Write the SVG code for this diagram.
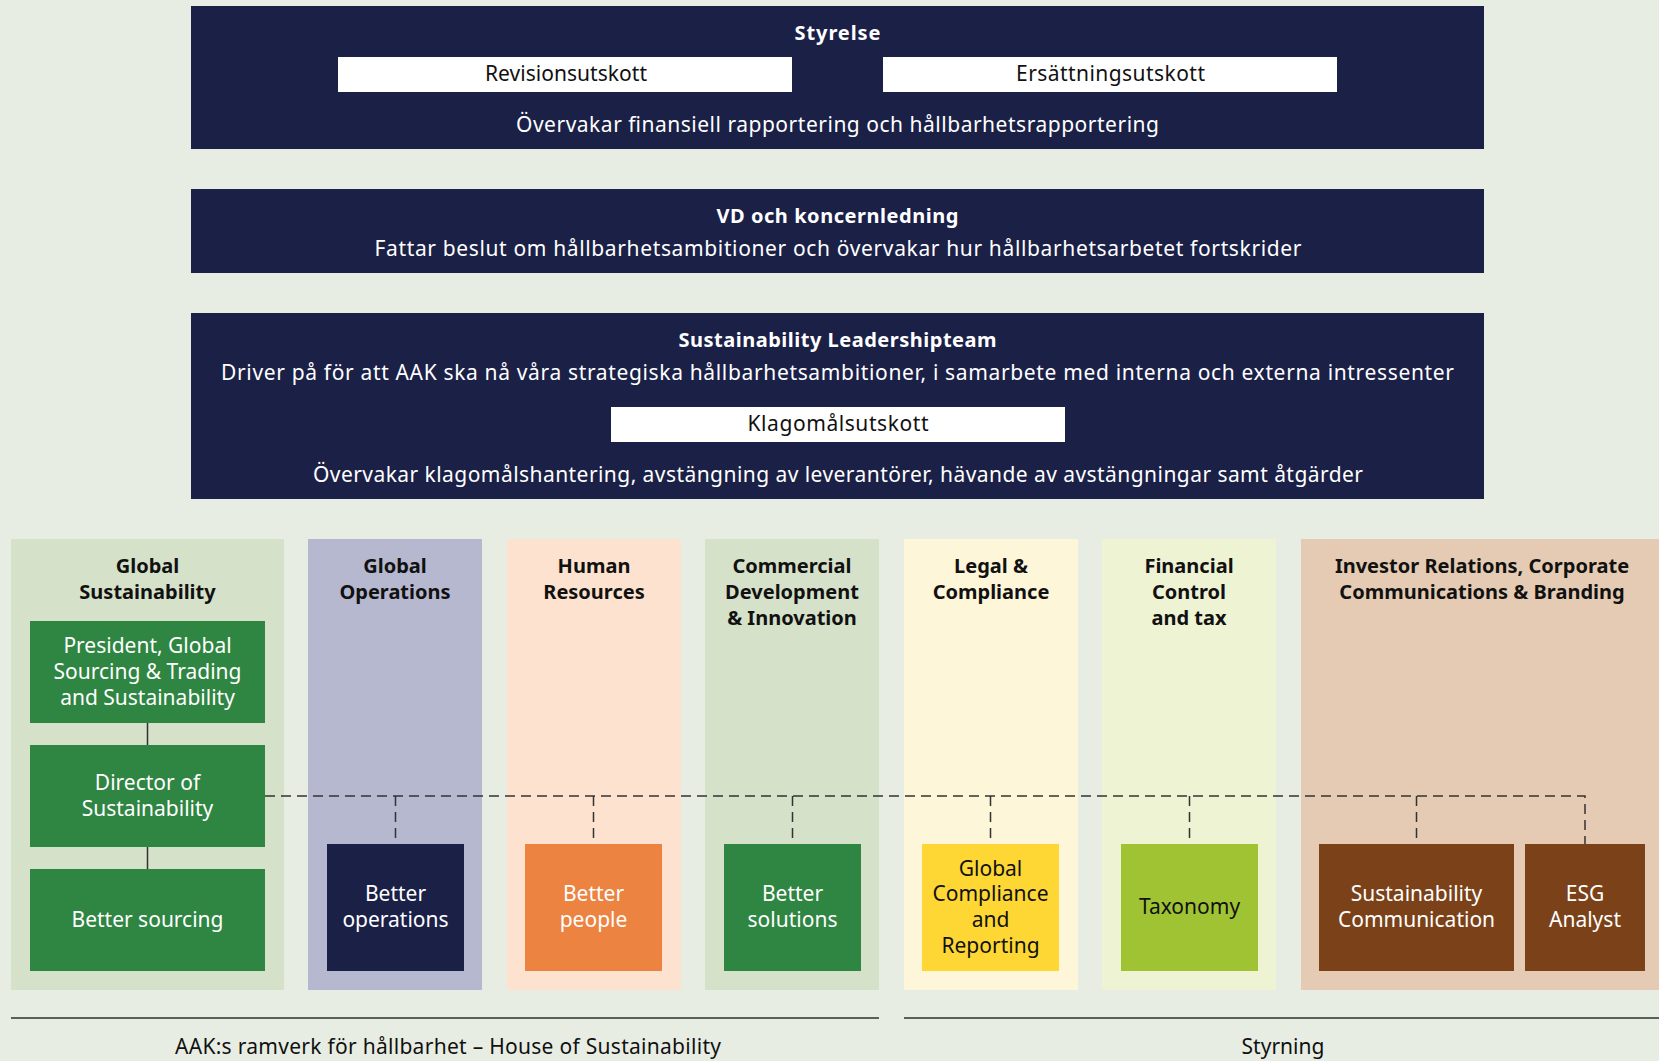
<svg xmlns="http://www.w3.org/2000/svg" width="1659" height="1061" viewBox="0 0 1659 1061">
<style>
text{font-family:"Noto Sans","Open Sans","Liberation Sans",sans-serif;font-size:21px;text-anchor:middle}
.b{font-weight:bold;font-size:20px}
.w{fill:#ffffff}
.k{fill:#111111}
.navy{fill:#1b2047}
.white{fill:#ffffff}
.green{fill:#2f8542}
.conn{fill:none;stroke:#333333;stroke-width:1.5}
.dash{stroke-dasharray:10 6}
</style>
<rect x="0" y="0" width="1659" height="1061" fill="#e8ede3"/>

<g id="styrelse">
<rect class="navy" x="191" y="6" width="1293" height="143"/>
<text class="b w" x="837.5" y="40" textLength="86" lengthAdjust="spacing">Styrelse</text>
<rect class="white" x="338" y="57" width="454" height="35"/>
<text class="k" x="566" y="81" textLength="162" lengthAdjust="spacing">Revisionsutskott</text>
<rect class="white" x="883" y="57" width="454" height="35"/>
<text class="k" x="1110.5" y="81" textLength="189" lengthAdjust="spacing">Ersättningsutskott</text>
<text class="w" x="837.5" y="132" textLength="643" lengthAdjust="spacing">Övervakar finansiell rapportering och hållbarhetsrapportering</text>
</g>

<g id="vd">
<rect class="navy" x="191" y="189" width="1293" height="84"/>
<text class="b w" x="837.5" y="223" textLength="242" lengthAdjust="spacing">VD och koncernledning</text>
<text class="w" x="838" y="256" textLength="927" lengthAdjust="spacing">Fattar beslut om hållbarhetsambitioner och övervakar hur hållbarhetsarbetet fortskrider</text>
</g>

<g id="slt">
<rect class="navy" x="191" y="313" width="1293" height="186"/>
<text class="b w" x="837.5" y="347" textLength="318" lengthAdjust="spacing">Sustainability Leadershipteam</text>
<text class="w" x="837.5" y="380" textLength="1233" lengthAdjust="spacing">Driver på för att AAK ska nå våra strategiska hållbarhetsambitioner, i samarbete med interna och externa intressenter</text>
<rect class="white" x="611" y="407" width="454" height="35"/>
<text class="k" x="838" y="431" textLength="181" lengthAdjust="spacing">Klagomålsutskott</text>
<text class="w" x="838" y="482" textLength="1050" lengthAdjust="spacing">Övervakar klagomålshantering, avstängning av leverantörer, hävande av avstängningar samt åtgärder</text>
</g>

<g id="col-global-sustainability">
<rect x="11" y="539" width="273" height="451" fill="#d5e2c9"/>
<text class="b k" x="147.5" y="573">Global</text>
<text class="b k" x="147.5" y="599">Sustainability</text>
</g>
<g id="col-global-operations">
<rect x="308" y="539" width="174" height="451" fill="#b6b8cf"/>
<text class="b k" x="395" y="573">Global</text>
<text class="b k" x="395" y="599">Operations</text>
</g>
<g id="col-human-resources">
<rect x="507" y="539" width="174" height="451" fill="#fde3cf"/>
<text class="b k" x="594" y="573">Human</text>
<text class="b k" x="594" y="599">Resources</text>
</g>
<g id="col-commercial">
<rect x="705" y="539" width="174" height="451" fill="#d5e2c9"/>
<text class="b k" x="792" y="573">Commercial</text>
<text class="b k" x="792" y="599">Development</text>
<text class="b k" x="792" y="625">&amp; Innovation</text>
</g>
<g id="col-legal">
<rect x="904" y="539" width="174" height="451" fill="#fdf6d9"/>
<text class="b k" x="991" y="573">Legal &amp;</text>
<text class="b k" x="991" y="599">Compliance</text>
</g>
<g id="col-financial">
<rect x="1102" y="539" width="174" height="451" fill="#eef3d4"/>
<text class="b k" x="1189" y="573">Financial</text>
<text class="b k" x="1189" y="599">Control</text>
<text class="b k" x="1189" y="625">and tax</text>
</g>
<g id="col-investor">
<rect x="1301" y="539" width="358" height="451" fill="#e5cbb3"/>
<text class="b k" x="1482" y="573">Investor Relations, Corporate</text>
<text class="b k" x="1482" y="599">Communications &amp; Branding</text>
</g>

<g id="connectors">
<path class="conn" d="M147.5 723 V745 M147.5 847 V869"/>
<path class="conn dash" d="M265 796 H1585 V844"/>
<path class="conn dash" d="M395.5 796 V844 M593.5 796 V844 M792.5 796 V844 M990.5 796 V844 M1189.5 796 V844 M1416.5 796 V844"/>
</g>

<g id="president">
<rect class="green" x="30" y="621" width="235" height="102"/>
<text class="w" x="147.5" y="653">President, Global</text>
<text class="w" x="147.5" y="679">Sourcing &amp; Trading</text>
<text class="w" x="147.5" y="705">and Sustainability</text>
</g>
<g id="director">
<rect class="green" x="30" y="745" width="235" height="102"/>
<text class="w" x="147.5" y="790">Director of</text>
<text class="w" x="147.5" y="816">Sustainability</text>
</g>
<g id="better-sourcing">
<rect class="green" x="30" y="869" width="235" height="102"/>
<text class="w" x="147.5" y="927">Better sourcing</text>
</g>
<g id="better-operations">
<rect class="navy" x="327" y="844" width="137" height="127"/>
<text class="w" x="395.5" y="901">Better</text>
<text class="w" x="395.5" y="927">operations</text>
</g>
<g id="better-people">
<rect x="525" y="844" width="137" height="127" fill="#ec8341"/>
<text class="w" x="593.5" y="901">Better</text>
<text class="w" x="593.5" y="927">people</text>
</g>
<g id="better-solutions">
<rect class="green" x="724" y="844" width="137" height="127"/>
<text class="w" x="792.5" y="901">Better</text>
<text class="w" x="792.5" y="927">solutions</text>
</g>
<g id="global-compliance">
<rect x="922" y="844" width="137" height="127" fill="#fed734"/>
<text class="k" x="990.5" y="876">Global</text>
<text class="k" x="990.5" y="901">Compliance</text>
<text class="k" x="990.5" y="927">and</text>
<text class="k" x="990.5" y="953">Reporting</text>
</g>
<g id="taxonomy">
<rect x="1121" y="844" width="137" height="127" fill="#a0c334"/>
<text class="k" x="1189.5" y="914">Taxonomy</text>
</g>
<g id="sustainability-communication">
<rect x="1319" y="844" width="195" height="127" fill="#7b4219"/>
<text class="w" x="1416.5" y="901">Sustainability</text>
<text class="w" x="1416.5" y="927">Communication</text>
</g>
<g id="esg-analyst">
<rect x="1525" y="844" width="120" height="127" fill="#7b4219"/>
<text class="w" x="1585" y="901">ESG</text>
<text class="w" x="1585" y="927">Analyst</text>
</g>

<g id="legend">
<line x1="11" y1="1018" x2="879" y2="1018" stroke="#5a5f5a" stroke-width="2"/>
<line x1="904" y1="1018" x2="1659" y2="1018" stroke="#5a5f5a" stroke-width="2"/>
<text class="k" x="448" y="1054" textLength="546" lengthAdjust="spacing">AAK:s ramverk för hållbarhet – House of Sustainability</text>
<text class="k" x="1283" y="1054">Styrning</text>
</g>
</svg>
